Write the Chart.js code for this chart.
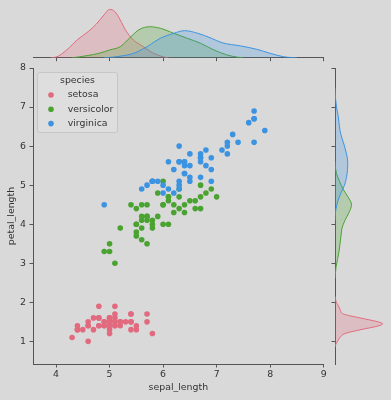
<!DOCTYPE html>
<html>
<head>
<meta charset="utf-8">
<script src="https://cdn.jsdelivr.net/npm/chart.js@4.4.1/dist/chart.umd.min.js"></script>
<style>
  html, body { margin: 0; padding: 0; background: #d9d9d9; }
  #wrap { position: relative; width: 391px; height: 400px; }
  canvas { position: absolute; }
</style>
</head>
<body>
<div id="wrap">
  <canvas id="top-kde" width="391" height="62" style="left:0;top:0"></canvas>
  <canvas id="right-kde" width="61" height="400" style="left:330px;top:0"></canvas>
  <canvas id="main-chart" width="391" height="400" style="left:0;top:0"></canvas>
</div>
<script>
const speciesNames = ['setosa', 'versicolor', 'virginica'];
const speciesColors = ['#e26a7e', '#4aa331', '#3b93e2'];
const speciesFills = ['rgba(226,106,126,0.25)', 'rgba(74,163,49,0.25)', 'rgba(59,147,226,0.25)'];

// scatter points (sepal_length, petal_length)
const setosaSepal = [5.1,4.9,4.7,4.6,5.0,5.4,4.6,5.0,4.4,4.9,5.4,4.8,4.8,4.3,5.8,5.7,5.4,5.1,5.7,5.1,5.4,5.1,4.6,5.1,4.8,5.0,5.0,5.2,5.2,4.7,4.8,5.4,5.2,5.5,4.9,5.0,5.5,4.9,4.4,5.1,5.0,4.5,4.4,5.0,5.1,4.8,5.1,4.6,5.3,5.0];
const setosaPetal = [1.4,1.4,1.3,1.5,1.4,1.7,1.4,1.5,1.4,1.5,1.5,1.6,1.4,1.1,1.2,1.5,1.3,1.4,1.7,1.5,1.7,1.5,1.0,1.7,1.9,1.6,1.6,1.5,1.4,1.6,1.6,1.5,1.5,1.4,1.5,1.2,1.3,1.4,1.3,1.5,1.3,1.3,1.3,1.6,1.9,1.4,1.6,1.4,1.5,1.4];
const versicolorSepal = [7.0,6.4,6.9,5.5,6.5,5.7,6.3,4.9,6.6,5.2,5.0,5.9,6.0,6.1,5.6,6.7,5.6,5.8,6.2,5.6,5.9,6.1,6.3,6.1,6.4,6.6,6.8,6.7,6.0,5.7,5.5,5.5,5.8,6.0,5.4,6.0,6.7,6.3,5.6,5.5,5.5,6.1,5.8,5.0,5.6,5.7,5.7,6.2,5.1,5.7];
const versicolorPetal = [4.7,4.5,4.9,4.0,4.6,4.5,4.7,3.3,4.6,3.9,3.5,4.2,4.0,4.7,3.6,4.4,4.5,4.1,4.5,3.9,4.8,4.0,4.9,4.7,4.3,4.4,4.8,5.0,4.5,3.5,3.8,3.7,3.9,5.1,4.5,4.5,4.7,4.4,4.1,4.0,4.4,4.6,4.0,3.3,4.2,4.2,4.2,4.3,3.0,4.1];
const virginicaSepal = [6.3,5.8,7.1,6.3,6.5,7.6,4.9,7.3,6.7,7.2,6.5,6.4,6.8,5.7,5.8,6.4,6.5,7.7,7.7,6.0,6.9,5.6,7.7,6.3,6.7,7.2,6.2,6.1,6.4,7.2,7.4,7.9,6.4,6.3,6.1,7.7,6.3,6.4,6.0,6.9,6.7,6.9,5.8,6.8,6.7,6.7,6.3,6.5,6.2,5.9];
const virginicaPetal = [6.0,5.1,5.9,5.6,5.8,6.6,4.5,6.3,5.8,6.1,5.1,5.3,5.5,5.0,5.1,5.3,5.5,6.7,6.9,5.0,5.7,4.9,6.7,4.9,5.7,6.0,4.8,4.9,5.6,5.8,6.1,6.4,5.6,5.1,5.6,6.1,5.6,5.5,4.8,5.4,5.6,5.1,5.1,5.9,5.7,5.2,5.0,5.2,5.4,5.1];

const xTicks = [4, 5, 6, 7, 8, 9];
const yTicks = [1, 2, 3, 4, 5, 6, 7, 8];

// marginal density curves
const topGridSetosa = [3.9,4.0,4.2,4.4,4.6,4.75,4.9,5.0,5.1,5.2,5.3,5.45,5.6,5.8,6.0,6.1];
const topDensSetosa = [0,0.004,0.055,0.129,0.186,0.239,0.307,0.345,0.329,0.269,0.196,0.125,0.086,0.036,0.006,0];
const topGridVersicolor = [4.3,4.4,4.6,4.8,5.0,5.2,5.4,5.55,5.75,5.95,6.2,6.45,6.7,6.95,7.2,7.4,7.5];
const topDensVersicolor = [0,0.004,0.016,0.031,0.055,0.079,0.15,0.2,0.221,0.21,0.174,0.139,0.103,0.055,0.019,0.003,0];
const topGridVirginica = [4.9,5.0,5.2,5.45,5.7,5.95,6.2,6.4,6.65,6.9,7.1,7.45,7.75,8.0,8.25,8.4,8.5];
const topDensVirginica = [0,0.002,0.011,0.031,0.079,0.139,0.174,0.193,0.174,0.139,0.107,0.084,0.06,0.031,0.007,0.001,0];

const rightGridSetosa = [0.85,0.9,1.0,1.1,1.2,1.3,1.4,1.45,1.5,1.6,1.7,1.8,1.9,2.0,2.15];
const rightDensSetosa = [0,0.006,0.037,0.074,0.147,0.382,0.647,0.701,0.632,0.368,0.125,0.078,0.054,0.019,0];
const rightGridVersicolor = [2.6,2.7,2.9,3.1,3.3,3.5,3.7,3.9,4.1,4.3,4.5,4.7,4.9,5.1,5.3,5.5,5.6];
const rightDensVersicolor = [0,0.004,0.015,0.037,0.059,0.074,0.088,0.103,0.147,0.206,0.243,0.191,0.118,0.066,0.022,0.004,0];
const rightGridVirginica = [4.1,4.2,4.4,4.6,4.8,5.0,5.2,5.4,5.6,5.8,6.0,6.2,6.4,6.6,6.8,7.0,7.2,7.4,7.5];
const rightDensVirginica = [0,0.003,0.015,0.044,0.088,0.14,0.169,0.184,0.187,0.169,0.14,0.103,0.074,0.059,0.044,0.022,0.009,0.003,0];

const lineColor = '#555555';
const textColor = '#333333';
Chart.defaults.font.family = "'DejaVu Sans', sans-serif";
Chart.defaults.font.size = 9.4;
Chart.defaults.color = textColor;

const zip = (xs, ys) => xs.map((x, i) => ({x: x, y: ys[i]}));
const fixTicks = (vals) => (scale) => { scale.ticks = vals.map(v => ({value: v})); };
const axisGrid = {drawOnChartArea: false, drawTicks: true, tickLength: 3.5, color: lineColor, lineWidth: 1};
const axisBorder = {display: true, color: lineColor, width: 1};

const legendBox = {
    id: 'speciesLegend',
    afterDraw(chart) {
        const ctx = chart.ctx;
        ctx.save();
        ctx.beginPath();
        ctx.roundRect(37.5, 72.5, 80, 60, 2.5);
        ctx.fillStyle = 'rgba(222,222,222,0.85)';
        ctx.fill();
        ctx.strokeStyle = '#c6c6c6';
        ctx.lineWidth = 1;
        ctx.stroke();
        ctx.font = "9.4px 'DejaVu Sans'";
        ctx.textBaseline = 'middle';
        ctx.textAlign = 'center';
        ctx.fillStyle = textColor;
        ctx.fillText('species', 77.5, 81);
        ctx.textAlign = 'left';
        speciesNames.forEach((name, i) => {
            const y = 95 + i * 14.3;
            ctx.beginPath();
            ctx.arc(51, y, 2.8, 0, Math.PI * 2);
            ctx.fillStyle = speciesColors[i];
            ctx.fill();
            ctx.fillStyle = textColor;
            ctx.fillText(name, 67.7, y);
        });
        ctx.restore();
    }
};

// main scatter
const scatterSets = [
    {label: 'setosa', data: zip(setosaSepal, setosaPetal), backgroundColor: speciesColors[0], order: 3},
    {label: 'versicolor', data: zip(versicolorSepal, versicolorPetal), backgroundColor: speciesColors[1], order: 2},
    {label: 'virginica', data: zip(virginicaSepal, virginicaPetal), backgroundColor: speciesColors[2], order: 1}
];

new Chart(document.querySelector('#main-chart'), {
    type: 'scatter',
    data: {datasets: scatterSets},
    options: {
        responsive: false,
        animation: false,
        devicePixelRatio: 1,
        layout: {padding: {left: 0, top: 68, right: 67.3, bottom: 0}},
        plugins: {legend: {display: false}, tooltip: {enabled: false}},
        elements: {point: {radius: 2.8, borderWidth: 0}},
        scales: {
            x: {
                type: 'linear', min: 3.57, max: 9.0,
                afterBuildTicks: fixTicks(xTicks),
                afterFit: (s) => { s.height = 36; },
                grid: axisGrid, border: axisBorder,
                ticks: {padding: 1, autoSkip: false, maxRotation: 0},
                title: {display: true, text: 'sepal_length', padding: {top: 0, bottom: 6.4}}
            },
            y: {
                type: 'linear', min: 0.42, max: 8.0,
                afterBuildTicks: fixTicks(yTicks),
                afterFit: (s) => { s.width = 33; },
                grid: axisGrid, border: axisBorder,
                ticks: {padding: 3.5, autoSkip: false},
                title: {display: true, text: 'petal_length', padding: {top: 6.4, bottom: 0}}
            }
        }
    },
    plugins: [legendBox]
});

// top marginal
const topSets = [
    {data: zip(topGridSetosa, topDensSetosa), borderColor: speciesColors[0], backgroundColor: speciesFills[0], fill: 'origin', order: 3},
    {data: zip(topGridVersicolor, topDensVersicolor), borderColor: speciesColors[1], backgroundColor: speciesFills[1], fill: 'origin', order: 2},
    {data: zip(topGridVirginica, topDensVirginica), borderColor: speciesColors[2], backgroundColor: speciesFills[2], fill: 'origin', order: 1}
];

new Chart(document.querySelector('#top-kde'), {
    type: 'line',
    data: {datasets: topSets},
    options: {
        responsive: false,
        animation: false,
        devicePixelRatio: 1,
        layout: {padding: {left: 33, top: 0, right: 67.3, bottom: 0}},
        plugins: {legend: {display: false}, tooltip: {enabled: false}},
        elements: {point: {radius: 0}, line: {borderWidth: 1, cubicInterpolationMode: 'monotone'}},
        scales: {
            x: {
                type: 'linear', min: 3.57, max: 9.0,
                afterBuildTicks: fixTicks(xTicks),
                afterFit: (s) => { s.height = 4.3; },
                grid: axisGrid, border: axisBorder,
                ticks: {display: false}
            },
            y: {type: 'linear', display: false, min: 0, max: 0.412}
        }
    }
});

// right marginal
const rightSets = [
    {data: rightGridSetosa.map((v, i) => ({x: rightDensSetosa[i], y: v})), borderColor: speciesColors[0], backgroundColor: speciesFills[0], fill: 'origin', order: 3},
    {data: rightGridVersicolor.map((v, i) => ({x: rightDensVersicolor[i], y: v})), borderColor: speciesColors[1], backgroundColor: speciesFills[1], fill: 'origin', order: 2},
    {data: rightGridVirginica.map((v, i) => ({x: rightDensVirginica[i], y: v})), borderColor: speciesColors[2], backgroundColor: speciesFills[2], fill: 'origin', order: 1}
];

new Chart(document.querySelector('#right-kde'), {
    type: 'line',
    data: {datasets: rightSets},
    options: {
        indexAxis: 'y',
        responsive: false,
        animation: false,
        devicePixelRatio: 1,
        layout: {padding: {left: 0, top: 68, right: 0, bottom: 36}},
        plugins: {legend: {display: false}, tooltip: {enabled: false}},
        elements: {point: {radius: 0}, line: {borderWidth: 1, cubicInterpolationMode: 'monotone'}},
        scales: {
            x: {type: 'linear', display: false, min: 0, max: 0.8235},
            y: {
                type: 'linear', min: 0.42, max: 8.0,
                afterBuildTicks: fixTicks(yTicks),
                afterFit: (s) => { s.width = 5; },
                grid: axisGrid, border: axisBorder,
                ticks: {display: false}
            }
        }
    }
});
</script>
</body>
</html>
